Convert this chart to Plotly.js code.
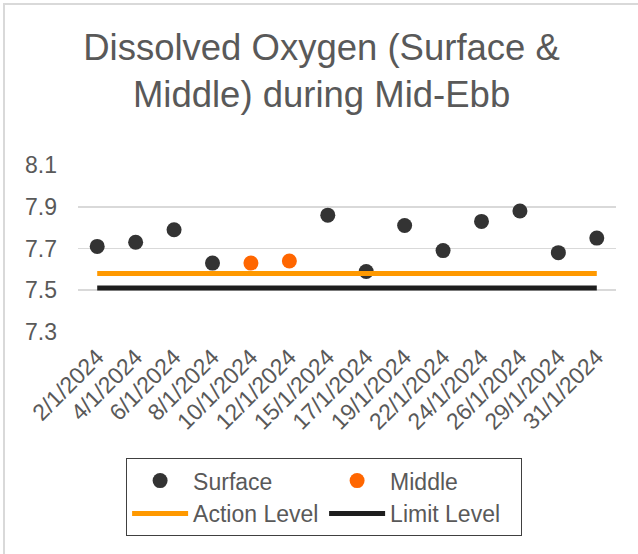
<!DOCTYPE html>
<html>
<head>
<meta charset="utf-8">
<script src="https://cdn.plot.ly/plotly-3.0.1.min.js"></script>
<style>
  html, body { margin: 0; padding: 0; background: #fff; }
  #wrap { position: relative; width: 638px; height: 554px; overflow: hidden; }
  #chart { width: 638px; height: 554px; }
  #frame { position: absolute; left: 3px; top: 3px; width: 800px; height: 800px;
           border-left: 2px solid #d9d9d9; border-top: 2px solid #d9d9d9; pointer-events: none; }
</style>
</head>
<body>
<div id="wrap"><div id="chart"></div><div id="frame"></div></div>
<script>
const dates = ["2/1/2024","4/1/2024","6/1/2024","8/1/2024","10/1/2024","12/1/2024","15/1/2024",
               "17/1/2024","19/1/2024","22/1/2024","24/1/2024","26/1/2024","29/1/2024","31/1/2024"];
const surface = [7.71, 7.73, 7.79, 7.63, null, null, 7.86, 7.59, 7.81, 7.69, 7.83, 7.88, 7.68, 7.75];
const middle  = [null, null, null, null, 7.63, 7.64, null, null, null, null, null, null, null, null];
const actionLevel = [7.58, 7.58, 7.58, 7.58, 7.58, 7.58, 7.58, 7.58, 7.58, 7.58, 7.58, 7.58, 7.58, 7.58];
const limitLevel  = [7.51, 7.51, 7.51, 7.51, 7.51, 7.51, 7.51, 7.51, 7.51, 7.51, 7.51, 7.51, 7.51, 7.51];
const yTicks = [7.3, 7.5, 7.7, 7.9, 8.1];

const FONT = "Liberation Sans, Arial, sans-serif";
const TXT = "#595959";

const traces = [
  { type: "scatter", mode: "markers", name: "Surface", x: dates, y: surface,
    marker: { color: "#333333", size: 15 } },
  { type: "scatter", mode: "markers", name: "Middle", x: dates, y: middle,
    marker: { color: "#ff6600", size: 15 } },
  { type: "scatter", mode: "lines", name: "Action Level", x: dates, y: actionLevel,
    line: { color: "#ff9900", width: 5 } },
  { type: "scatter", mode: "lines", name: "Limit Level", x: dates, y: limitLevel,
    line: { color: "#1e1e1e", width: 5 } }
];

const layout = {
  width: 638, height: 554,
  paper_bgcolor: "#ffffff", plot_bgcolor: "#ffffff",
  font: { family: FONT, color: TXT },
  margin: { l: 78, r: 22, t: 165, b: 222 },
  title: {
    text: "Dissolved Oxygen (Surface &<br>Middle) during Mid-Ebb",
    font: { family: FONT, size: 36.5, color: TXT },
    x: 0.504, xanchor: "center", xref: "container",
    y: 0.892, yanchor: "top", yref: "container"
  },
  xaxis: {
    type: "category", range: [-0.5, 13.5], autorange: false, automargin: false,
    tickangle: -45, showgrid: false, zeroline: false, showline: false,
    ticks: "", ticklabelstandoff: 6, tickfont: { family: FONT, size: 23, color: TXT }
  },
  yaxis: {
    range: [7.2995, 8.1005], autorange: false, automargin: false,
    tickvals: yTicks, ticktext: yTicks.map(v => v.toFixed(1)),
    showgrid: true, gridcolor: "#d9d9d9", gridwidth: 1.5, zeroline: false, showline: false,
    ticks: "", ticklabelstandoff: 20, tickfont: { family: FONT, size: 23, color: TXT }
  },
  showlegend: true,
  legend: {
    orientation: "h", xref: "container", yref: "container",
    x: 0.508, xanchor: "center", y: 0.173, yanchor: "top",
    entrywidth: 126, itemwidth: 56, bordercolor: "#404040", borderwidth: 1,
    font: { family: FONT, size: 23, color: TXT }, bgcolor: "rgba(0,0,0,0)"
  }
};

Plotly.newPlot("chart", traces, layout, { displayModeBar: false, staticPlot: true });
</script>
</body>
</html>
